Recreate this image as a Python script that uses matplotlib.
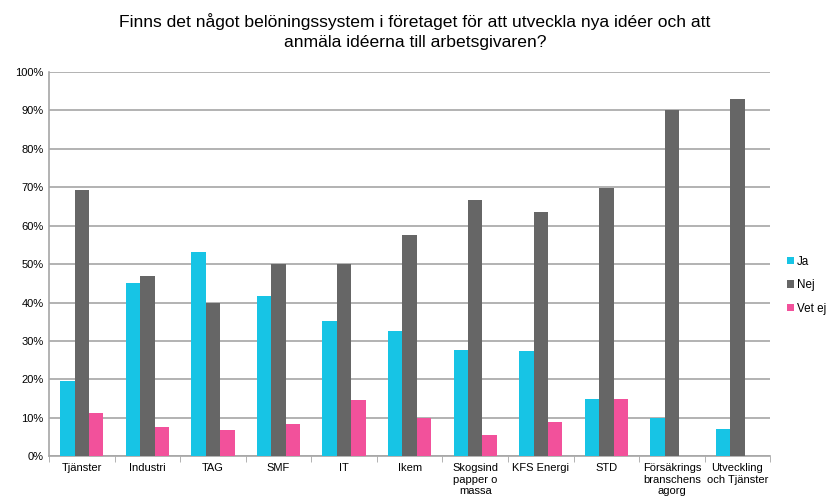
import numpy as np
import matplotlib
matplotlib.use("Agg")
import matplotlib.pyplot as plt
from matplotlib.ticker import FixedLocator, PercentFormatter

plt.rcParams["font.family"] = ["Liberation Sans", "DejaVu Sans"]

kategorier = ["Tjänster", "Industri", "TAG", "SMF", "IT", "Ikem",
              "Skogsind\npapper o\nmassa", "KFS Energi", "STD",
              "Försäkrings\nbranschens\nagorg", "Utveckling\noch Tjänster"]
ja = [19.6, 45.2, 53.1, 41.6, 35.2, 32.6, 27.7, 27.3, 15.0, 10.0, 7.1]
nej = [69.4, 47.0, 40.0, 50.0, 50.0, 57.6, 66.7, 63.6, 69.7, 90.0, 93.0]
vet_ej = [11.1, 7.5, 6.9, 8.3, 14.7, 9.9, 5.6, 8.9, 15.0, 0.0, 0.0]
serier = ["Ja", "Nej", "Vet ej"]
farger = ["#17C4E5", "#666666", "#F2519B"]

fig = plt.figure(figsize=(8.3, 5.04), dpi=100)
ax = fig.add_axes([0.059, 0.095, 0.869, 0.762])

x = np.arange(len(kategorier))
w = 0.22
for i, (vals, namn, farg) in enumerate(zip([ja, nej, vet_ej], serier, farger)):
    ax.bar(x + (i - 1) * w, vals, w, color=farg, label=namn, zorder=3)

ax.set_xlim(-0.5, len(kategorier) - 0.5)
ax.set_ylim(0, 100)
ax.set_yticks(range(0, 101, 10))
ax.yaxis.set_major_formatter(PercentFormatter(decimals=0))
ax.yaxis.grid(True, color="#A6A6A6", linewidth=1.2, zorder=0)
ax.tick_params(axis="y", length=0, labelsize=8, pad=4)

ax.set_xticks(x)
ax.set_xticklabels(kategorier, fontsize=8, linespacing=1.2)
ax.xaxis.set_minor_locator(FixedLocator(np.arange(-0.5, len(kategorier), 1)))
ax.tick_params(axis="x", which="major", length=0, pad=5)
ax.tick_params(axis="x", which="minor", length=4, color="#A6A6A6")

for s in ["top", "right"]:
    ax.spines[s].set_visible(False)
for s in ["left", "bottom"]:
    ax.spines[s].set_color("#A6A6A6")
    ax.spines[s].set_linewidth(1.2)

fig.suptitle("Finns det något belöningssystem i företaget för att utveckla nya idéer och att\nanmäla idéerna till arbetsgivaren?",
             fontsize=12.6, y=0.975, linespacing=1.45)

ax.legend(loc="center left", bbox_to_anchor=(1.014, 0.445), frameon=False,
          fontsize=8.4, handlelength=0.6, handleheight=0.6, handletextpad=0.25,
          labelspacing=1.0, borderaxespad=0.2)

fig.savefig("out.png", dpi=100)
